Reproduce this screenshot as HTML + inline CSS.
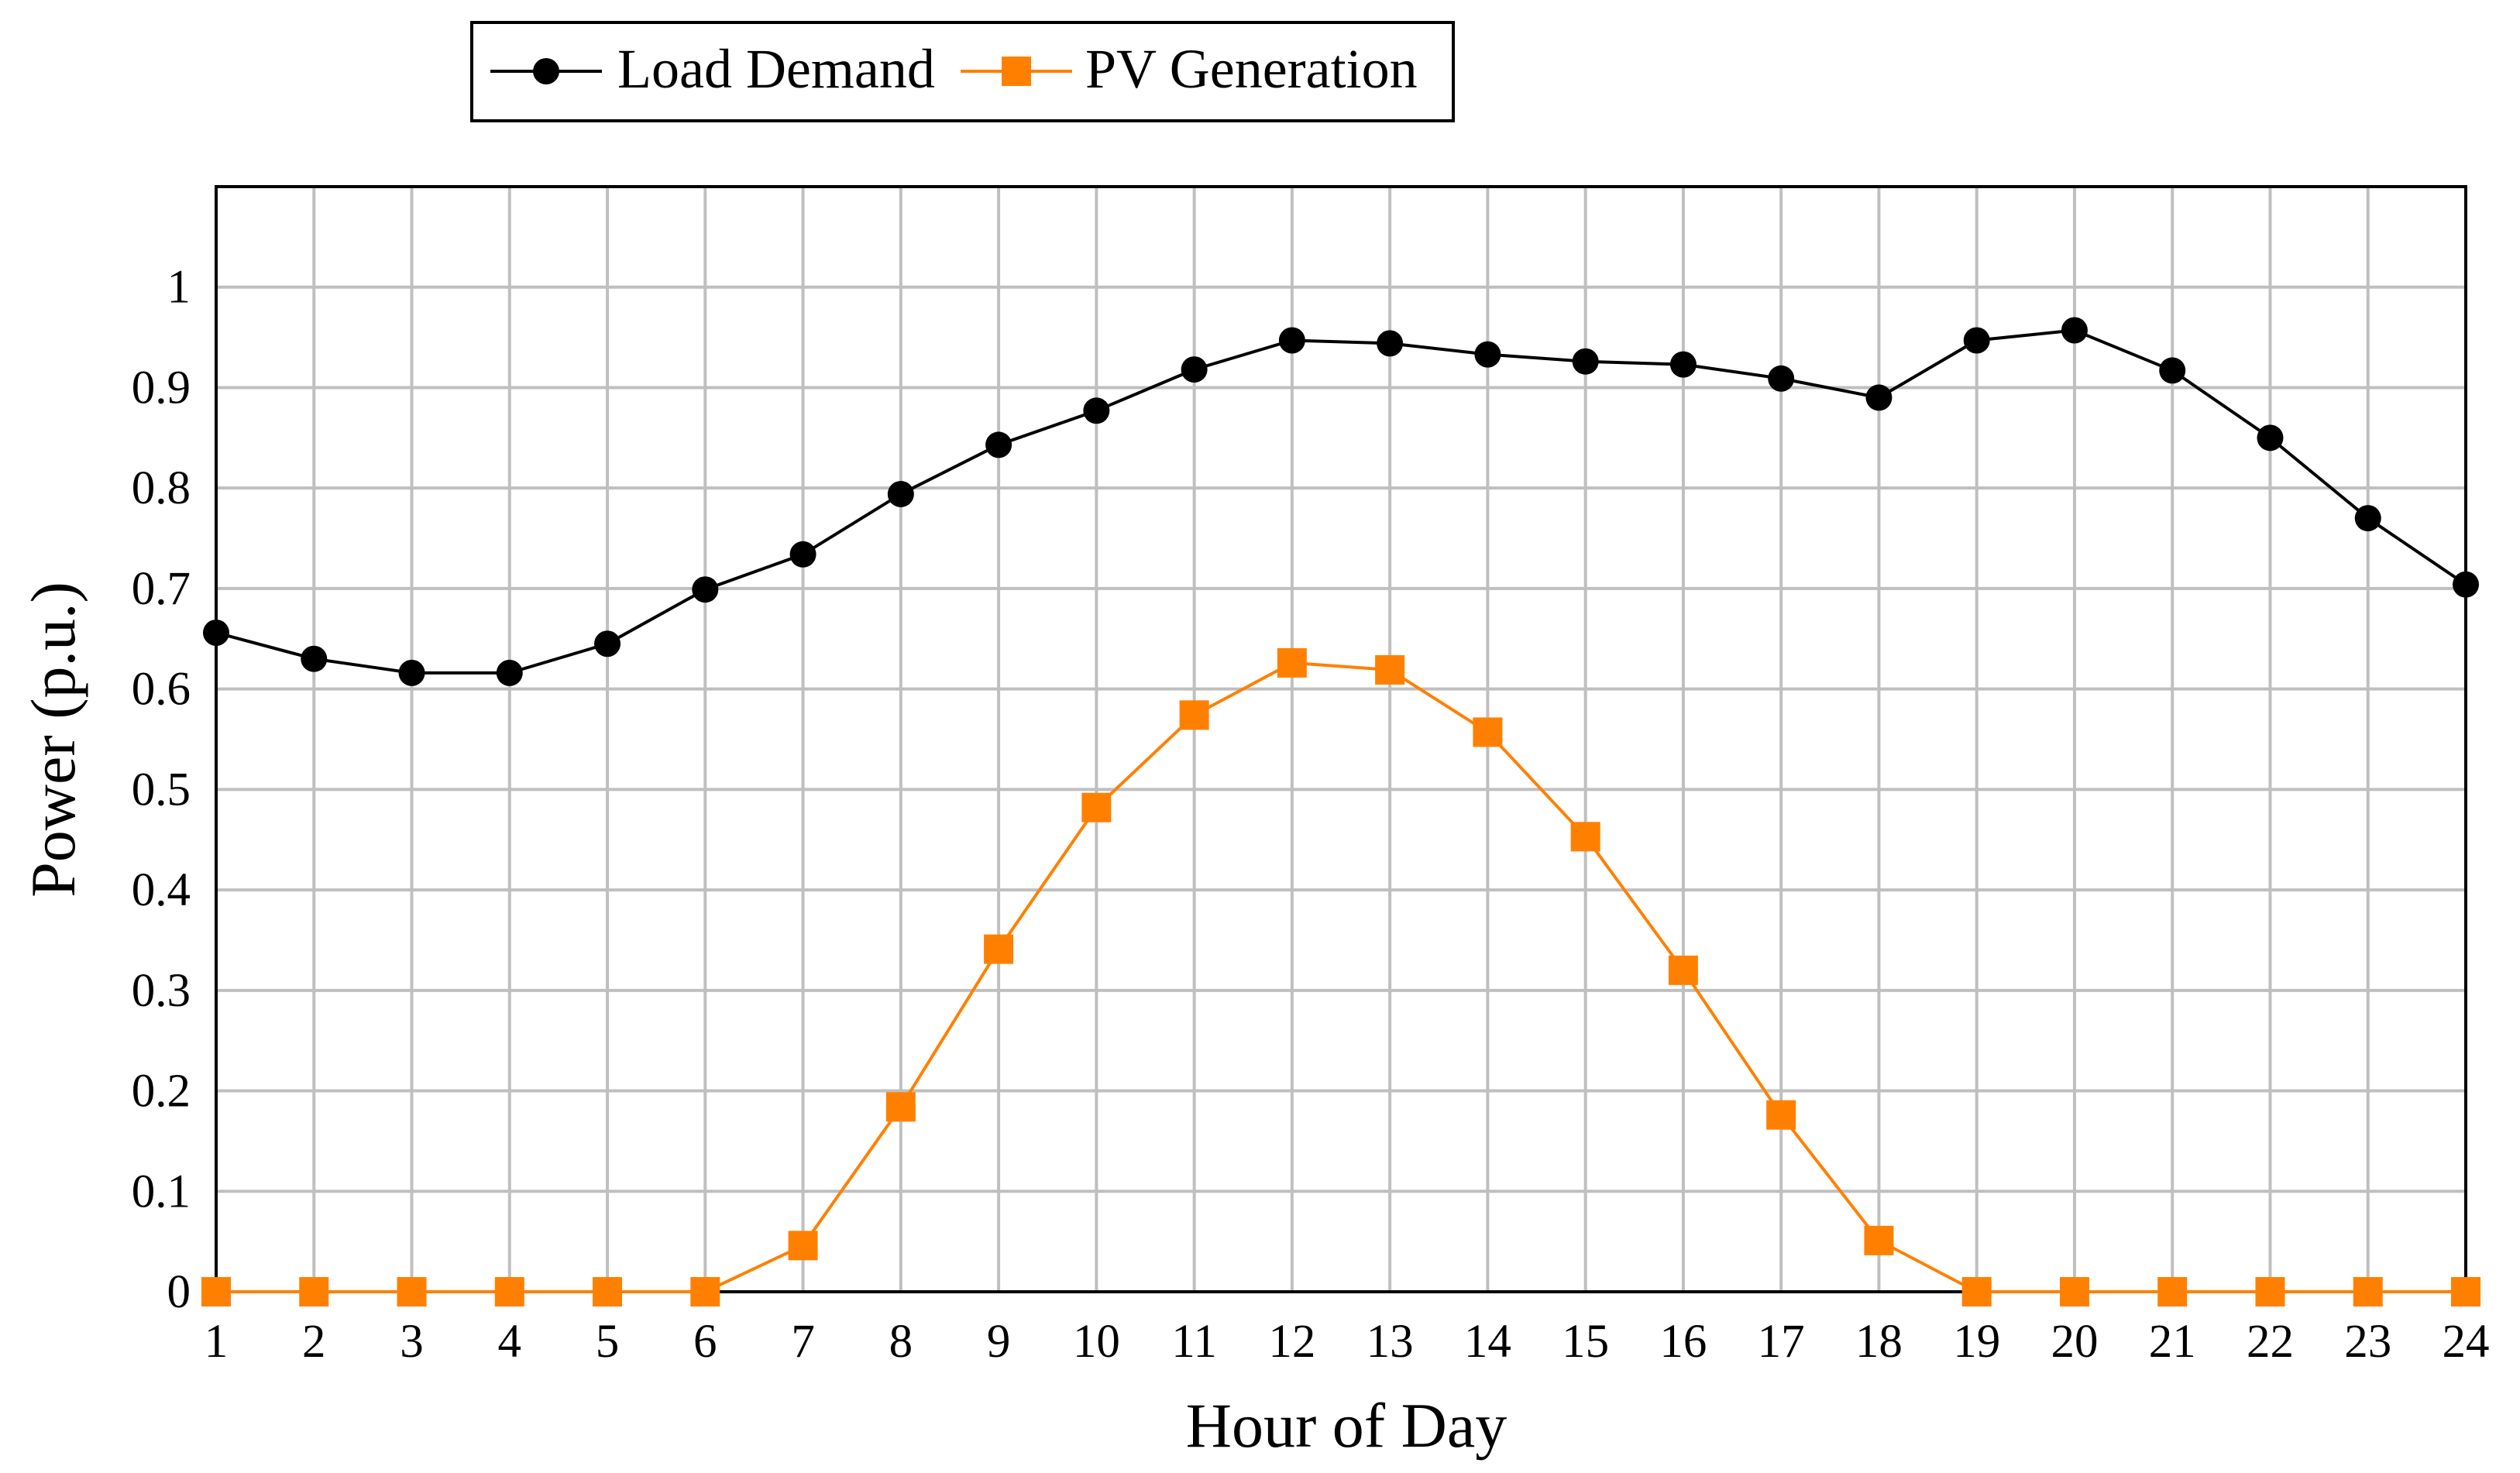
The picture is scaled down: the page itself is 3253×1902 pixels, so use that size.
<!DOCTYPE html>
<html><head><meta charset="utf-8"><style>body{margin:0;background:#fff}svg{display:block}</style></head>
<body>
<svg id="chart" width="3253" height="1902" xmlns="http://www.w3.org/2000/svg" font-family="Liberation Serif, serif"></svg>
<script>
const hours=[1,2,3,4,5,6,7,8,9,10,11,12,13,14,15,16,17,18,19,20,21,22,23,24];
const loadDemand=[0.656,0.630,0.616,0.616,0.645,0.699,0.734,0.794,0.843,0.877,0.918,0.947,0.944,0.933,0.926,0.923,0.909,0.890,0.947,0.957,0.917,0.850,0.770,0.704];
const pvGeneration=[0,0,0,0,0,0,0.046,0.184,0.341,0.482,0.574,0.626,0.619,0.557,0.453,0.320,0.176,0.051,0,0,0,0,0,0];
const yTicks=[0,0.1,0.2,0.3,0.4,0.5,0.6,0.7,0.8,0.9,1];
const yTickLabels=["0","0.1","0.2","0.3","0.4","0.5","0.6","0.7","0.8","0.9","1"];

const L=279,R=3183,T=241,B=1668,yMin=0,yMax=1.1;
const X=h=>L+(h-1)*(R-L)/23;
const Y=v=>B-(v-yMin)*(B-T)/(yMax-yMin);
const svg=document.getElementById('chart');
const NS='http://www.w3.org/2000/svg';
function mk(tag,attrs,parent){const e=document.createElementNS(NS,tag);for(const k in attrs)e.setAttribute(k,attrs[k]);(parent||svg).appendChild(e);return e;}

const grid=mk('g',{});


hours.forEach(h=>{mk('line',{x1:X(h),x2:X(h),y1:T,y2:B,stroke:'#bfbfbf','stroke-width':4},grid);});
yTicks.forEach(v=>{mk('line',{x1:L,x2:R,y1:Y(v),y2:Y(v),stroke:'#bfbfbf','stroke-width':4},grid);});

const frame=mk('rect',{x:L,y:T,width:R-L,height:B-T,fill:'none',stroke:'#000','stroke-width':4});



hours.forEach(h=>{const t=mk('text',{x:X(h),y:1752,'text-anchor':'middle','font-size':61});t.textContent=h;

});
yTicks.forEach((v,i)=>{const t=mk('text',{x:246,y:Y(v)+20,'text-anchor':'end','font-size':61});t.textContent=yTickLabels[i];

});

const xt=mk('text',{x:1738,y:1868,'text-anchor':'middle','font-size':82});xt.textContent='Hour of Day';


const yt=mk('text',{x:0,y:0,'text-anchor':'middle','font-size':82,transform:'translate(96,955) rotate(-90)'});yt.textContent='Power (p.u.)';



const pvLine=mk('polyline',{points:hours.map((h,i)=>X(h)+','+Y(pvGeneration[i])).join(' '),fill:'none',stroke:'#ff8000','stroke-width':4});


hours.forEach((h,i)=>{const r=mk('rect',{x:X(h)-19,y:Y(pvGeneration[i])-19,width:38,height:38,fill:'#ff8000'});

});
const ldLine=mk('polyline',{points:hours.map((h,i)=>X(h)+','+Y(loadDemand[i])).join(' '),fill:'none',stroke:'#000','stroke-width':4});


hours.forEach((h,i)=>{const c=mk('circle',{cx:X(h),cy:Y(loadDemand[i]),r:17,fill:'#000'});

});

const lg=mk('g',{});


mk('rect',{x:609,y:29,width:1267,height:127,fill:'#fff',stroke:'#000','stroke-width':4},lg);
mk('line',{x1:633,x2:777,y1:92,y2:92,stroke:'#000','stroke-width':4},lg);
mk('circle',{cx:705,cy:92,r:17,fill:'#000'},lg);
const l1=mk('text',{x:797,y:113,'font-size':72},lg);l1.textContent='Load Demand';


mk('line',{x1:1240,x2:1384,y1:92,y2:92,stroke:'#ff8000','stroke-width':4},lg);
mk('rect',{x:1293,y:73,width:38,height:38,fill:'#ff8000'},lg);
const l2=mk('text',{x:1401,y:113,'font-size':72},lg);l2.textContent='PV Generation';


</script>
</body></html>
